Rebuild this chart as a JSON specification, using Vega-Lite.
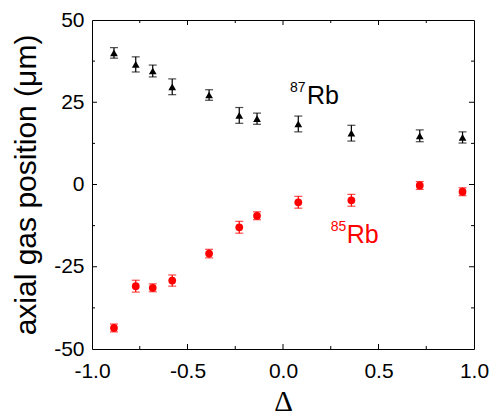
{
  "$schema": "https://vega.github.io/schema/vega-lite/v6.json",
  "width": 382,
  "height": 329,
  "autosize": "none",
  "padding": {"left": 92, "top": 20, "right": 17, "bottom": 66},
  "background": "white",
  "config": {
    "view": {"stroke": "black", "strokeWidth": 1},
    "font": "Liberation Sans",
    "axis": {
      "domain": false,
      "ticks": false,
      "grid": false,
      "labelFont": "Liberation Sans",
      "labelFontSize": 21,
      "labelColor": "black",
      "titleColor": "black",
      "titleFontWeight": "normal",
      "labelFlush": false,
      "labelOverlap": false
    }
  },
  "datasets": {
    "pts": [
      {"d": -0.885, "y": 40.0, "err": 1.6, "iso": "87Rb"},
      {"d": -0.771, "y": 36.5, "err": 2.3, "iso": "87Rb"},
      {"d": -0.682, "y": 34.5, "err": 1.8, "iso": "87Rb"},
      {"d": -0.58, "y": 29.7, "err": 2.4, "iso": "87Rb"},
      {"d": -0.387, "y": 27.2, "err": 1.6, "iso": "87Rb"},
      {"d": -0.229, "y": 21.0, "err": 2.4, "iso": "87Rb"},
      {"d": -0.136, "y": 20.0, "err": 1.7, "iso": "87Rb"},
      {"d": 0.08, "y": 18.4, "err": 2.4, "iso": "87Rb"},
      {"d": 0.358, "y": 15.6, "err": 2.4, "iso": "87Rb"},
      {"d": 0.716, "y": 14.8, "err": 1.8, "iso": "87Rb"},
      {"d": 0.94, "y": 14.3, "err": 1.7, "iso": "87Rb"},
      {"d": -0.885, "y": -43.6, "err": 1.2, "iso": "85Rb"},
      {"d": -0.771, "y": -30.9, "err": 1.8, "iso": "85Rb"},
      {"d": -0.682, "y": -31.4, "err": 1.2, "iso": "85Rb"},
      {"d": -0.58, "y": -29.2, "err": 1.7, "iso": "85Rb"},
      {"d": -0.387, "y": -21.0, "err": 1.3, "iso": "85Rb"},
      {"d": -0.229, "y": -13.0, "err": 1.8, "iso": "85Rb"},
      {"d": -0.136, "y": -9.5, "err": 1.2, "iso": "85Rb"},
      {"d": 0.08, "y": -5.4, "err": 1.8, "iso": "85Rb"},
      {"d": 0.358, "y": -4.8, "err": 1.8, "iso": "85Rb"},
      {"d": 0.716, "y": -0.3, "err": 1.2, "iso": "85Rb"},
      {"d": 0.94, "y": -2.2, "err": 1.2, "iso": "85Rb"}
    ],
    "big": [
      {"d": 0.126, "y": 24.4, "t": "Rb", "iso": "87Rb"},
      {"d": 0.334, "y": -17.9, "t": "Rb", "iso": "85Rb"}
    ],
    "sup": [
      {"d": 0.037, "y": 28.1, "t": "87", "iso": "87Rb"},
      {"d": 0.25, "y": -14.0, "t": "85", "iso": "85Rb"}
    ],
    "xmaj": [
      {"v": -0.5, "e": -50}, {"v": 0, "e": -50}, {"v": 0.5, "e": -50},
      {"v": -0.5, "e": 50}, {"v": 0, "e": 50}, {"v": 0.5, "e": 50}
    ],
    "xmin": [
      {"v": -0.75, "e": -50}, {"v": -0.25, "e": -50}, {"v": 0.25, "e": -50}, {"v": 0.75, "e": -50},
      {"v": -0.75, "e": 50}, {"v": -0.25, "e": 50}, {"v": 0.25, "e": 50}, {"v": 0.75, "e": 50}
    ],
    "ymaj": [
      {"v": -25, "e": -1}, {"v": 0, "e": -1}, {"v": 25, "e": -1},
      {"v": -25, "e": 1}, {"v": 0, "e": 1}, {"v": 25, "e": 1}
    ],
    "ymin": [
      {"v": -37.5, "e": -1}, {"v": -12.5, "e": -1}, {"v": 12.5, "e": -1}, {"v": 37.5, "e": -1},
      {"v": -37.5, "e": 1}, {"v": -12.5, "e": 1}, {"v": 12.5, "e": 1}, {"v": 37.5, "e": 1}
    ]
  },
  "layer": [
    {
      "data": {"name": "pts"},
      "mark": {"type": "errorbar", "ticks": {"size": 8}, "thickness": 1.2},
      "encoding": {
        "x": {
          "field": "d", "type": "quantitative", "title": "Δ",
          "scale": {"domain": [-1, 1], "nice": false},
          "axis": {
            "values": [-1, -0.5, 0, 0.5, 1],
            "labelExpr": "replace(format(datum.value, '.1f'), '\u2212', '-')",
            "titleFont": "Liberation Serif",
            "titleFontSize": 29,
            "titlePadding": 6,
            "labelPadding": 11
          }
        },
        "y": {
          "field": "y", "type": "quantitative", "title": "axial gas position (μm)",
          "scale": {"domain": [-50, 50], "nice": false},
          "axis": {
            "values": [-50, -25, 0, 25, 50],
            "labelExpr": "replace(format(datum.value, 'd'), '\u2212', '-')",
            "titleFontSize": 30,
            "titlePadding": 12,
            "labelPadding": 8
          }
        },
        "yError": {"field": "err"},
        "color": {
          "field": "iso", "type": "nominal",
          "scale": {"domain": ["87Rb", "85Rb"], "range": ["black", "#ff0000"]},
          "legend": null
        }
      }
    },
    {
      "data": {"name": "pts"},
      "mark": {"type": "point", "filled": true, "opacity": 1, "size": 60},
      "encoding": {
        "x": {"field": "d", "type": "quantitative", "title": "Δ"},
        "y": {"field": "y", "type": "quantitative", "title": "axial gas position (μm)"},
        "color": {"field": "iso", "type": "nominal", "legend": null},
        "shape": {
          "field": "iso", "type": "nominal",
          "scale": {"domain": ["87Rb", "85Rb"], "range": ["triangle-up", "circle"]},
          "legend": null
        }
      }
    },
    {
      "data": {"name": "xmaj"},
      "transform": [{"filter": "datum.e < 0"}],
      "mark": {"type": "tick", "orient": "vertical", "size": 5, "thickness": 1, "color": "black", "opacity": 1, "yOffset": -2.5},
      "encoding": {
        "x": {"field": "v", "type": "quantitative", "title": "Δ"},
        "y": {"field": "e", "type": "quantitative", "title": "axial gas position (μm)"}
      }
    },
    {
      "data": {"name": "xmaj"},
      "transform": [{"filter": "datum.e > 0"}],
      "mark": {"type": "tick", "orient": "vertical", "size": 5, "thickness": 1, "color": "black", "opacity": 1, "yOffset": 2.5},
      "encoding": {
        "x": {"field": "v", "type": "quantitative", "title": "Δ"},
        "y": {"field": "e", "type": "quantitative", "title": "axial gas position (μm)"}
      }
    },
    {
      "data": {"name": "xmin"},
      "transform": [{"filter": "datum.e < 0"}],
      "mark": {"type": "tick", "orient": "vertical", "size": 3, "thickness": 1, "color": "black", "opacity": 1, "yOffset": -1.5},
      "encoding": {
        "x": {"field": "v", "type": "quantitative", "title": "Δ"},
        "y": {"field": "e", "type": "quantitative", "title": "axial gas position (μm)"}
      }
    },
    {
      "data": {"name": "xmin"},
      "transform": [{"filter": "datum.e > 0"}],
      "mark": {"type": "tick", "orient": "vertical", "size": 3, "thickness": 1, "color": "black", "opacity": 1, "yOffset": 1.5},
      "encoding": {
        "x": {"field": "v", "type": "quantitative", "title": "Δ"},
        "y": {"field": "e", "type": "quantitative", "title": "axial gas position (μm)"}
      }
    },
    {
      "data": {"name": "ymaj"},
      "transform": [{"filter": "datum.e < 0"}],
      "mark": {"type": "tick", "orient": "horizontal", "size": 5, "thickness": 1, "color": "black", "opacity": 1, "xOffset": 2.5},
      "encoding": {
        "x": {"field": "e", "type": "quantitative", "title": "Δ"},
        "y": {"field": "v", "type": "quantitative", "title": "axial gas position (μm)"}
      }
    },
    {
      "data": {"name": "ymaj"},
      "transform": [{"filter": "datum.e > 0"}],
      "mark": {"type": "tick", "orient": "horizontal", "size": 5, "thickness": 1, "color": "black", "opacity": 1, "xOffset": -2.5},
      "encoding": {
        "x": {"field": "e", "type": "quantitative", "title": "Δ"},
        "y": {"field": "v", "type": "quantitative", "title": "axial gas position (μm)"}
      }
    },
    {
      "data": {"name": "ymin"},
      "transform": [{"filter": "datum.e < 0"}],
      "mark": {"type": "tick", "orient": "horizontal", "size": 3, "thickness": 1, "color": "black", "opacity": 1, "xOffset": 1.5},
      "encoding": {
        "x": {"field": "e", "type": "quantitative", "title": "Δ"},
        "y": {"field": "v", "type": "quantitative", "title": "axial gas position (μm)"}
      }
    },
    {
      "data": {"name": "ymin"},
      "transform": [{"filter": "datum.e > 0"}],
      "mark": {"type": "tick", "orient": "horizontal", "size": 3, "thickness": 1, "color": "black", "opacity": 1, "xOffset": -1.5},
      "encoding": {
        "x": {"field": "e", "type": "quantitative", "title": "Δ"},
        "y": {"field": "v", "type": "quantitative", "title": "axial gas position (μm)"}
      }
    },
    {
      "data": {"name": "big"},
      "mark": {"type": "text", "align": "left", "baseline": "alphabetic", "fontSize": 25, "font": "Liberation Sans"},
      "encoding": {
        "x": {"field": "d", "type": "quantitative", "title": "Δ"},
        "y": {"field": "y", "type": "quantitative", "title": "axial gas position (μm)"},
        "text": {"field": "t"},
        "color": {"field": "iso", "type": "nominal", "legend": null}
      }
    },
    {
      "data": {"name": "sup"},
      "mark": {"type": "text", "align": "left", "baseline": "alphabetic", "fontSize": 14, "font": "Liberation Sans"},
      "encoding": {
        "x": {"field": "d", "type": "quantitative", "title": "Δ"},
        "y": {"field": "y", "type": "quantitative", "title": "axial gas position (μm)"},
        "text": {"field": "t"},
        "color": {"field": "iso", "type": "nominal", "legend": null}
      }
    }
  ]
}
